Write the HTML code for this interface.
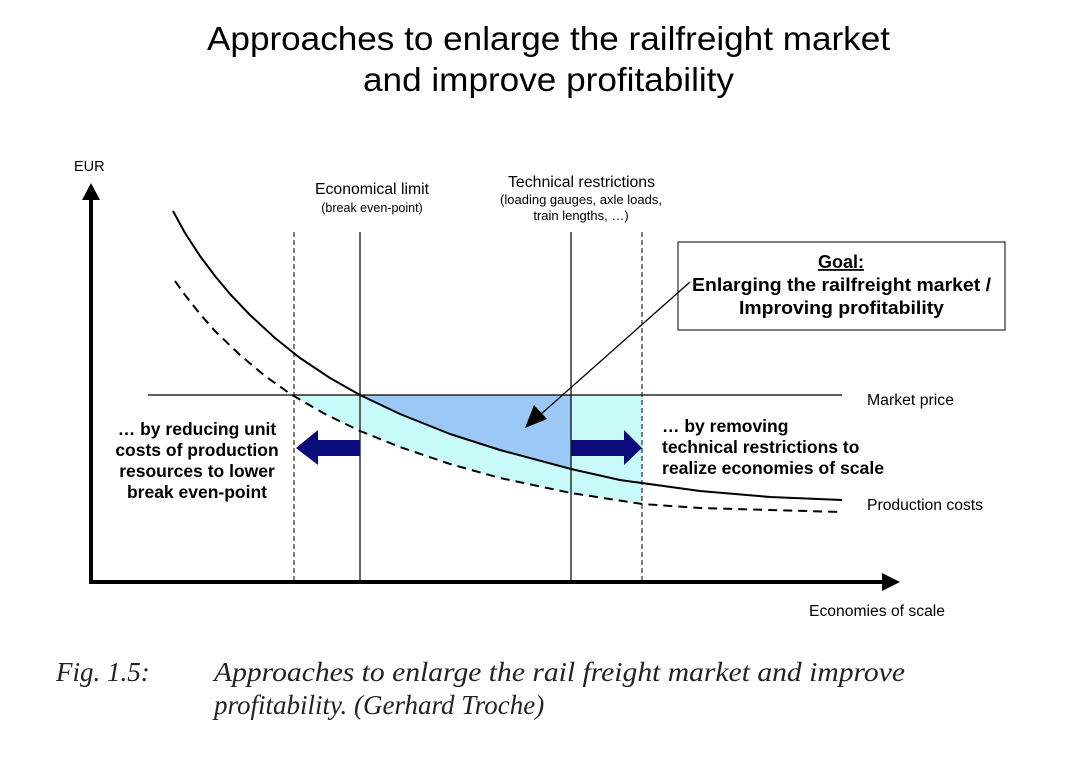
<!DOCTYPE html>
<html><head><meta charset="utf-8"><style>
html,body{margin:0;padding:0;background:#fff;}
svg{display:block;}
</style></head><body>
<svg width="1073" height="757" viewBox="0 0 1073 757" xmlns="http://www.w3.org/2000/svg" font-family="Liberation Sans, sans-serif">
<rect width="1073" height="757" fill="#fff"/>
<text x="207" y="50" font-size="33" textLength="683" lengthAdjust="spacingAndGlyphs" fill="#000">Approaches to enlarge the railfreight market</text>
<text x="363" y="91" font-size="33" textLength="371" lengthAdjust="spacingAndGlyphs" fill="#000">and improve profitability</text>

<!-- fills -->
<polygon fill="#c8fafa" points="292,395 642,395 642,504 571,493 500,478 450,464 400,447 360,431 325,414 292,395"/>
<polygon fill="#9cc8f5" points="360,395 571,395 571,469 500,450 450,434 400,414 360,395"/>

<line x1="148" y1="395" x2="842" y2="395" stroke="#000" stroke-width="1.3"/>

<line x1="294" y1="232" x2="294" y2="582" stroke="#000" stroke-width="1" stroke-dasharray="5,3"/>
<line x1="642" y1="232" x2="642" y2="582" stroke="#000" stroke-width="1" stroke-dasharray="5,3"/>
<line x1="360" y1="232" x2="360" y2="582" stroke="#000" stroke-width="1.2"/>
<line x1="571" y1="232" x2="571" y2="582" stroke="#000" stroke-width="1.2"/>

<polyline fill="none" stroke="#000" stroke-width="2" stroke-linejoin="round" points="173,211 185,233 200,256 215,276 230,294 250,315 275,338 300,358 330,378 360,395 400,414 450,434 500,450 571,469 620,480 700,491 770,497 842,500"/>
<polyline fill="none" stroke="#000" stroke-width="2" stroke-dasharray="9,6" stroke-linejoin="round" points="175,281 185,295 200,314 215,331 240,355 265,376 292,395 325,414 360,431 400,447 450,464 500,478 571,493 642,504 700,508 770,510 842,512"/>

<polygon fill="#0a0a7a" points="360,440 318,440 318,430 296,448 318,465 318,456 360,456"/>
<polygon fill="#0a0a7a" points="571,440 624,440 624,430 642,448 624,465 624,456 571,456"/>

<line x1="91" y1="583" x2="91" y2="195" stroke="#000" stroke-width="4"/>
<polygon points="82,200 91,183 100,200" fill="#000"/>
<line x1="89" y1="582" x2="885" y2="582" stroke="#000" stroke-width="4"/>
<polygon points="882,573 900,582 882,591" fill="#000"/>

<rect x="678" y="242" width="327" height="88" fill="#fff" stroke="#000" stroke-width="1"/>
<text x="841" y="268" font-size="18" font-weight="bold" text-anchor="middle" text-decoration="underline">Goal:</text>
<text x="692" y="291" font-size="18" font-weight="bold" textLength="299" lengthAdjust="spacingAndGlyphs">Enlarging the railfreight market /</text>
<text x="739" y="314" font-size="18" font-weight="bold" textLength="205" lengthAdjust="spacingAndGlyphs">Improving profitability</text>
<line x1="690" y1="282" x2="540" y2="415" stroke="#000" stroke-width="1.3"/>
<polygon points="525,428 534,405 547,419" fill="#000"/>

<text x="74" y="171" font-size="14.5">EUR</text>
<text x="315" y="194" font-size="15.5" textLength="114" lengthAdjust="spacingAndGlyphs">Economical limit</text>
<text x="372" y="212" font-size="12.5" text-anchor="middle">(break even-point)</text>
<text x="508" y="187" font-size="15.5" textLength="147" lengthAdjust="spacingAndGlyphs">Technical restrictions</text>
<text x="581" y="204" font-size="13" text-anchor="middle">(loading gauges, axle loads,</text>
<text x="581" y="220" font-size="13" text-anchor="middle">train lengths, …)</text>
<text x="867" y="405" font-size="15.5" textLength="87" lengthAdjust="spacingAndGlyphs">Market price</text>
<text x="867" y="510" font-size="15.5" textLength="116" lengthAdjust="spacingAndGlyphs">Production costs</text>
<text x="809" y="616" font-size="15.5" textLength="136" lengthAdjust="spacingAndGlyphs">Economies of scale</text>

<g font-size="17.5" font-weight="bold" text-anchor="middle">
<text x="197" y="435">… by reducing unit</text>
<text x="197" y="456">costs of production</text>
<text x="197" y="477">resources to lower</text>
<text x="197" y="498">break even-point</text>
</g>
<g font-size="17.5" font-weight="bold">
<text x="662" y="432">… by removing</text>
<text x="662" y="453">technical restrictions to</text>
<text x="662" y="474" textLength="222" lengthAdjust="spacingAndGlyphs">realize economies of scale</text>
</g>

<g font-family="Liberation Serif, serif" font-style="italic" font-size="27" fill="#222">
<text x="56" y="681">Fig. 1.5:</text>
<text x="214" y="681" textLength="691" lengthAdjust="spacingAndGlyphs">Approaches to enlarge the rail freight market and improve</text>
<text x="214" y="714">profitability. (Gerhard Troche)</text>
</g>
</svg>
</body></html>
